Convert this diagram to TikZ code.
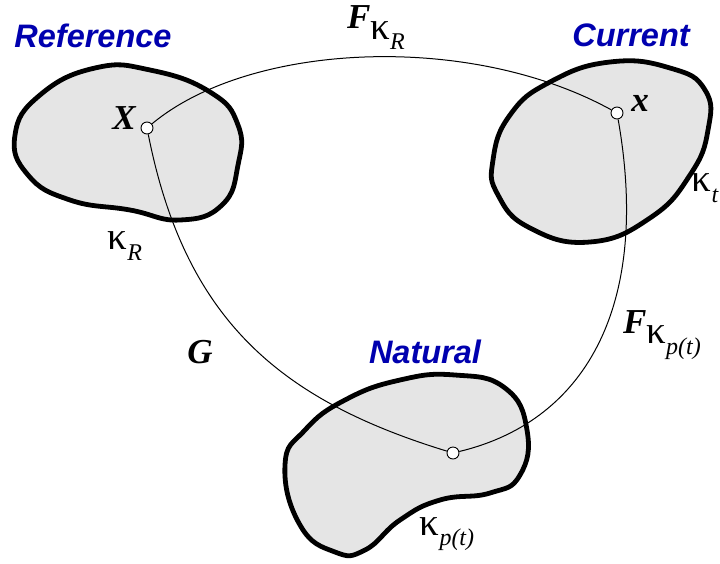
\documentclass[tikz,border=0pt]{standalone}
\usepackage{fontspec}
\newfontfamily\headfont{Liberation Sans}
\newfontfamily\symfont{Liberation Serif}
\definecolor{confblue}{RGB}{0,0,175}
\newcommand{\kap}{{\fontsize{39}{40}\selectfont\symfont κ}}
\newcommand{\lo}[1]{\raisebox{-0.3em}{\fontsize{24}{28}\selectfont\symfont\itshape #1}}
\newcommand{\Fmap}[1]{{\bfseries\itshape F}\raisebox{-0.3em}{\kap\lo{#1}}}

\begin{document}
\begin{tikzpicture}[x=1pt,y=-1pt,
  body/.style={line width=4.8pt,fill=gray!20,line join=round},
  conf/.style={font=\fontsize{32.5}{36}\selectfont\headfont\bfseries\itshape,text=confblue},
  lab/.style={font=\fontsize{35}{40}\selectfont\symfont},
  pt/.style={circle,draw,fill=white,inner sep=0pt,minimum size=12pt,line width=0.9pt}]
\useasboundingbox (0,0) rectangle (720,563);
% the three configurations
\draw[body] plot[smooth cycle,tension=0.8] coordinates {(15,135) (40,95) (95,68) (150,70) (210,92) (238,125) (238,165) (222,205) (180,220) (130,210) (70,200) (28,175)};
\draw[body] plot[smooth cycle,tension=0.8] coordinates {(493,160) (510,115) (550,82) (610,62) (670,68) (705,90) (708,130) (690,175) (650,218) (590,242) (530,228) (498,195)};
\draw[body] plot[smooth cycle,tension=0.8] coordinates {(285,465) (305,430) (345,400) (400,380) (455,375) (505,388) (527,430) (520,475) (490,493) (440,500) (400,520) (365,550) (335,552) (300,525)};
% material points
\node[pt] (X) at (147,128) {};
\node[pt] (x) at (617,113) {};
\node[pt] (y) at (453,453) {};
% maps
\draw[line width=1pt] (X) .. controls (250,42) and (470,32) .. (x);
\draw[line width=1pt] (X) .. controls (185,320) and (280,400) .. (y);
\draw[line width=1pt] (x) .. controls (650,300) and (590,420) .. (y);
% names
\node[conf] (reflab) at (93,36) {Reference};
\node[conf] (curlab) at (631,35) {Current};
\node[conf] (natlab) at (425,352) {Natural};
% labels
\node[lab] (Xlab) at (124,118) {\bfseries\itshape X};
\node[lab] (xlab) at (640,103) {\bfseries\itshape x};
\node[lab] (kR) at (125,246) {\kap\lo{R}};
\node[lab] (kt) at (705,188) {\kap\lo{t}};
\node[lab] (kp) at (447,534) {\kap\lo{p(t)}};
\node[lab] (FR) at (376,28) {\Fmap{R}};
\node[lab] (G) at (200,352) {\bfseries\itshape G};
\node[lab] (Fp) at (662,335) {\Fmap{p(t)}};
\end{tikzpicture}
\end{document}
